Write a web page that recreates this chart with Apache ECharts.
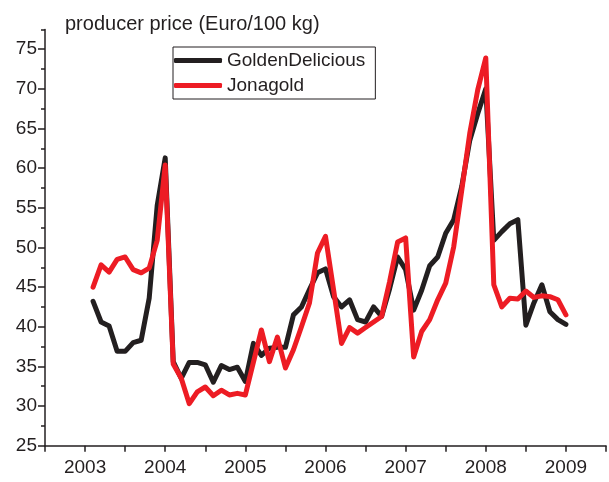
<!DOCTYPE html>
<html>
<head>
<meta charset="utf-8">
<script src="https://cdn.jsdelivr.net/npm/echarts@6/dist/echarts.min.js"></script>
<style>
  html, body { margin: 0; padding: 0; background: #fff; }
  #chart { width: 609px; height: 482px; }
</style>
</head>
<body>
<div id="chart"></div>
<script>
// time axis (fraction of year), 10 samples per year
const times = [
  2003.1, 2003.2, 2003.3, 2003.4, 2003.5, 2003.6, 2003.7, 2003.8, 2003.9, 2004.0,
  2004.1, 2004.2, 2004.3, 2004.4, 2004.5, 2004.6, 2004.7, 2004.8, 2004.9, 2005.0,
  2005.1, 2005.2, 2005.3, 2005.4, 2005.5, 2005.6, 2005.7, 2005.8, 2005.9, 2006.0,
  2006.1, 2006.2, 2006.3, 2006.4, 2006.5, 2006.6, 2006.7, 2006.8, 2006.9, 2007.0,
  2007.1, 2007.2, 2007.3, 2007.4, 2007.5, 2007.6, 2007.7, 2007.8, 2007.9, 2008.0,
  2008.1, 2008.2, 2008.3, 2008.4, 2008.5, 2008.6, 2008.7, 2008.8, 2008.9, 2009.0
]

const goldenDelicious = [
  43.2, 40.6, 40.1, 36.9, 36.9, 38.0, 38.3, 43.6, 55.3, 61.3,
  35.6, 33.5, 35.5, 35.5, 35.2, 33.0, 35.1, 34.6, 34.9, 33.1,
  37.9, 36.4, 37.3, 37.4, 37.4, 41.5, 42.5, 44.7, 46.8, 47.3,
  43.8, 42.5, 43.4, 40.9, 40.6, 42.5, 41.3, 44.8, 48.8, 47.2,
  42.1, 44.6, 47.7, 48.8, 51.8, 53.5, 57.7, 63.5, 66.9, 70.0,
  50.9, 52.0, 53.0, 53.5, 40.2, 43.0, 45.3, 41.9, 40.9, 40.3
]

const jonagold = [
  45.0, 47.8, 46.9, 48.5, 48.8, 47.2, 46.8, 47.4, 50.9, 60.4,
  35.3, 33.5, 30.3, 31.8, 32.4, 31.3, 32.0, 31.4, 31.6, 31.4,
  35.5, 39.6, 35.6, 38.7, 34.8, 37.1, 40.0, 43.0, 49.3, 51.4,
  44.7, 37.9, 39.9, 39.2, 39.9, 40.6, 41.3, 45.7, 50.7, 51.2,
  36.2, 39.4, 40.9, 43.4, 45.5, 50.1, 57.2, 64.4, 69.9, 73.9,
  45.3, 42.5, 43.6, 43.5, 44.5, 43.7, 43.9, 43.8, 43.4, 41.5
]

const yMajorTicks = [25, 30, 35, 40, 45, 50, 55, 60, 65, 70, 75]

const ink = '#231f20'
const red = '#ed1c24'
const font = 'Liberation Sans, Arial, sans-serif'

const chart = echarts.init(document.getElementById('chart'))

const pairs = arr => arr.map((v, i) => [times[i], v])

chart.setOption({
  animation: false,
  textStyle: { fontFamily: font, color: ink },
  title: {
    text: 'producer price (Euro/100 kg)',
    left: 60,
    top: 9,
    textStyle: { fontFamily: font, fontSize: 20, fontWeight: 'normal', color: ink }
  },
  legend: {
    orient: 'vertical',
    left: 173,
    top: 47,
    padding: [4, 10, 4, 1],
    itemWidth: 48,
    itemHeight: 5,
    itemGap: 6,
    borderColor: ink,
    borderWidth: 1,
    icon: 'roundRect',
    textStyle: { fontFamily: font, fontSize: 19, color: ink },
    data: ['GoldenDelicious', 'Jonagold']
  },
  grid: { left: 45, right: -4, top: 29.4, bottom: 36.3, containLabel: false },
  xAxis: {
    type: 'value',
    min: 2002.5,
    max: 2009.5,
    interval: 0.5,
    splitLine: { show: false },
    axisLine: { lineStyle: { color: ink, width: 1.5 } },
    axisTick: { length: 6, lineStyle: { color: ink, width: 1.5 } },
    axisLabel: {
      color: ink,
      fontSize: 19,
      fontFamily: font,
      margin: 13,
      formatter: v => (Number.isInteger(v) ? String(v) : '')
    }
  },
  yAxis: [
    {
      type: 'value',
      min: 25,
      max: 77.5,
      interval: 2.5,
      splitLine: { show: false },
      axisLine: { show: true, lineStyle: { color: ink, width: 1.5 } },
      axisTick: { show: true, length: 4, lineStyle: { color: ink, width: 1.5 } },
      axisLabel: {
        color: ink,
        fontSize: 19,
        fontFamily: font,
        margin: 8,
        formatter: v => (v % 5 === 0 ? String(v) : '')
      }
    },
    {
      type: 'value',
      min: 25,
      max: 77.5,
      position: 'left',
      splitLine: { show: false },
      axisLine: { show: false },
      axisLabel: { show: false },
      axisTick: { show: true, length: 7, customValues: yMajorTicks, lineStyle: { color: ink, width: 1.5 } }
    }
  ],
  series: [
    {
      name: 'GoldenDelicious',
      type: 'line',
      data: pairs(goldenDelicious),
      showSymbol: false,
      color: ink,
      lineStyle: { width: 5, color: ink, join: 'round', cap: 'round' }
    },
    {
      name: 'Jonagold',
      type: 'line',
      data: pairs(jonagold),
      showSymbol: false,
      color: red,
      lineStyle: { width: 5, color: red, join: 'round', cap: 'round' }
    }
  ]
})
</script>
</body>
</html>
